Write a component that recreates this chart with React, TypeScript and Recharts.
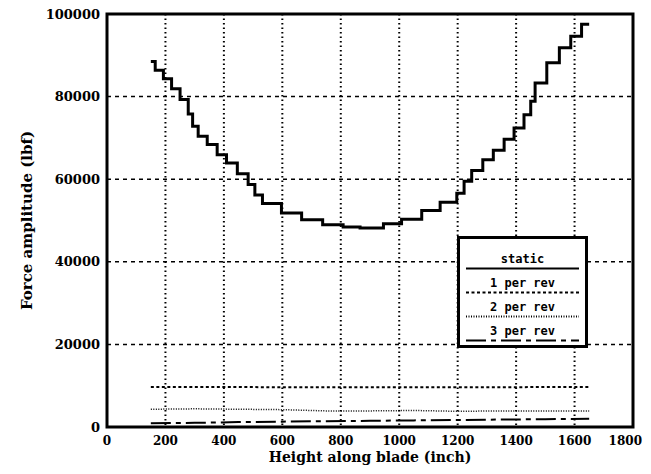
import React from "react";
import { LineChart, Line, XAxis, YAxis, CartesianGrid, Legend, ReferenceArea, Label } from "recharts";

// static force, step profile along the blade
const staticHeights = [150, 165, 193, 221, 250, 278, 293, 312, 343, 377, 409, 446, 483, 506, 532, 597, 666, 738, 808, 866,
    946, 1008, 1077, 1140, 1197, 1222, 1248, 1286, 1322, 1359, 1393, 1427, 1450, 1465, 1505, 1548, 1587, 1624, 1650];
const staticForce = [88500, 86400, 84300, 81900, 79300, 75800, 72800, 70400, 68400, 65900, 63900, 61300, 58700, 56200, 54100,
    51800, 50200, 49000, 48400, 48200, 49200, 50300, 52400, 54400, 56600, 59500, 62100, 64700, 67000, 69700, 72400, 75600,
    78900, 83300, 88200, 91800, 94600, 97500, 97500];

// harmonics
const revHeights = [150, 300, 450, 600, 750, 900, 1050, 1200, 1350, 1500, 1650];
const perRev1 = [9700, 9700, 9700, 9600, 9600, 9600, 9600, 9600, 9600, 9700, 9700];
const perRev2 = [4300, 4400, 4300, 4200, 3900, 3900, 4000, 3800, 3900, 3900, 3900];
const perRev3 = [900, 1000, 1200, 1300, 1400, 1500, 1600, 1700, 1800, 1900, 2000];

const xTicks = [0, 200, 400, 600, 800, 1000, 1200, 1400, 1600, 1800];
const yTicks = [0, 20000, 40000, 60000, 80000, 100000];

const toRows = (h: number[], f: number[]) => h.map((x, i) => ({ h: x, f: f[i] }));

interface SeriesDef {
    name: string,
    rows: Array<{ h: number, f: number }>,
    width: number,
    dash?: string,
    type: "stepAfter" | "linear"
}

const series: Array<SeriesDef> = [
    { name: "static", rows: toRows(staticHeights, staticForce), width: 3, type: "stepAfter" },
    { name: "1 per rev", rows: toRows(revHeights, perRev1), width: 2, dash: "3 2.5", type: "linear" },
    { name: "2 per rev", rows: toRows(revHeights, perRev2), width: 1.5, dash: "1 1.5", type: "linear" },
    { name: "3 per rev", rows: toRows(revHeights, perRev3), width: 2, dash: "20 5 5 5", type: "linear" },
];

const yTickFont = { fontFamily: "'DejaVu Serif', serif", fontWeight: "bold", fontSize: 13, fill: "#000" };
const xTickFont = { fontFamily: "'DejaVu Serif', serif", fontWeight: "bold", fontSize: 12, fill: "#000" };
const titleFont = { fontFamily: "'DejaVu Serif', serif", fontWeight: "bold", fontSize: 14, fill: "#000" };

// the page only shows up to x=643, so the last label is pulled inside
const XTick = (props: any) => {
    const { x, y, payload } = props;
    const last = payload.value === xTicks[xTicks.length - 1];
    return (
        <text x={last ? 642 : x} y={y} dy="0.71em" textAnchor={last ? "end" : "middle"} style={xTickFont}>
            {payload.value}
        </text>
    );
};

const renderLegend = () => (
    <div style={{
        width: 131, height: 112, boxSizing: "border-box", border: "3px solid #000", background: "#fff",
        fontFamily: "'DejaVu Sans Mono', monospace", fontWeight: "bold", fontSize: 12, color: "#000"
    }}>
        <div style={{ height: 14 }} />
        {series.map(s => (
            <div key={s.name} style={{ height: 24 }}>
                <div style={{ textAlign: "center", lineHeight: "13px", height: 13 }}>{s.name}</div>
                <svg width={113} height={5} style={{ display: "block", margin: "0 auto" }}>
                    <line x1={0} y1={2.5} x2={113} y2={2.5} stroke="#000" strokeWidth={2} strokeDasharray={s.dash} />
                </svg>
            </div>
        ))}
    </div>
);

export default function App() {
    // cancel the body margin so the chart coordinates match the window
    return (
        <div style={{ margin: -8 }}>
            <LineChart width={651} height={474} margin={{ top: 14, right: 18, bottom: 0, left: 0 }}>
                <CartesianGrid vertical={false} stroke="#000" strokeWidth={1.5} strokeDasharray="4 4" />
                <CartesianGrid horizontal={false} stroke="#000" strokeWidth={2} strokeDasharray="1.5 3" />
                <XAxis type="number" dataKey="h" domain={[0, 1800]} ticks={xTicks} interval={0} height={47}
                    axisLine={false} tickLine={false} tickSize={0} tickMargin={9} tick={<XTick />} allowDataOverflow>
                    <Label value="Height along blade (inch)" position="insideBottom" offset={12} style={titleFont} />
                </XAxis>
                <YAxis type="number" domain={[0, 100000]} ticks={yTicks} interval={0} width={107}
                    axisLine={false} tickLine={false} tickSize={0} tickMargin={7} tick={yTickFont} allowDataOverflow>
                    <Label value="Force amplitude (lbf)" angle={-90} position="insideLeft" offset={27}
                        style={{ ...titleFont, fontSize: 15, textAnchor: "middle" }} />
                </YAxis>
                <ReferenceArea x1={0} x2={1800} y1={0} y2={100000} fill="none" stroke="#000" strokeWidth={3} />
                {series.map(s => (
                    <Line key={s.name} data={s.rows} dataKey="f" name={s.name} type={s.type} stroke="#000"
                        strokeWidth={s.width} strokeDasharray={s.dash} dot={false} activeDot={false} isAnimationActive={false} />
                ))}
                <Legend layout="vertical" align="center" verticalAlign="middle" content={renderLegend}
                    wrapperStyle={{ left: 457, top: 236, width: 131, height: 112 }} />
            </LineChart>
        </div>
    );
}
